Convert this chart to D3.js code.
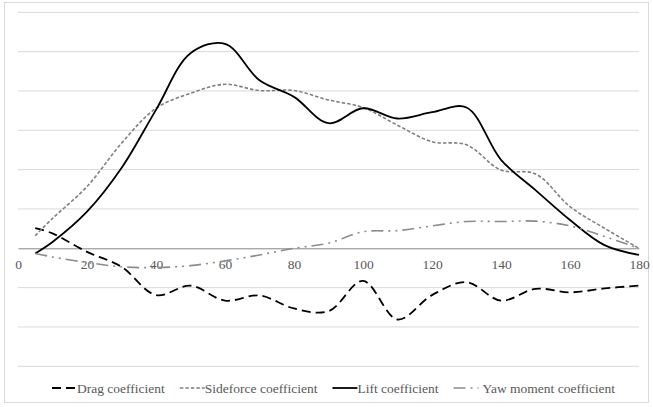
<!DOCTYPE html>
<html>
<head>
<meta charset="utf-8">
<script src="https://cdn.jsdelivr.net/npm/d3@7"></script>
<style>
  body { margin: 0; background: #fff; }
  svg text { font-family: 'Liberation Serif', 'Times New Roman', 'DejaVu Serif', serif !important; }
</style>
</head>
<body>
<script>
// angles (degrees) shared by all series
const angles = [5, 10, 20, 30, 40, 50, 60, 70, 80, 90, 100, 110, 120, 130, 140, 150, 160, 170, 180];

const drag = [0.51, 0.38, -0.09, -0.47, -1.19, -0.95, -1.33, -1.2, -1.53, -1.6, -0.83, -1.81, -1.19, -0.86, -1.33, -1.03, -1.12, -1.02, -0.95];
const sideforce = [0.32, 0.76, 1.57, 2.67, 3.56, 3.94, 4.17, 4.01, 4.01, 3.77, 3.58, 3.13, 2.71, 2.63, 1.99, 1.89, 1.06, 0.51, 0];
const lift = [-0.13, 0.16, 0.93, 2.04, 3.52, 4.96, 5.2, 4.27, 3.85, 3.18, 3.56, 3.3, 3.46, 3.58, 2.25, 1.48, 0.72, 0.08, -0.17];
const yaw = [-0.13, -0.22, -0.36, -0.47, -0.49, -0.44, -0.32, -0.17, 0, 0.13, 0.42, 0.45, 0.57, 0.68, 0.68, 0.69, 0.57, 0.3, 0];

const xTicks = [0, 20, 40, 60, 80, 100, 120, 140, 160, 180];
const yGrid = [-3, -2, -1, 1, 2, 3, 4, 5, 6];

const seriesNames = ["Drag coefficient", "Sideforce coefficient", "Lift coefficient", "Yaw moment coefficient"];

const W = 653, H = 407;
const serif = "'Liberation Serif', 'Times New Roman', serif";

const svg = d3.select("body").append("svg")
  .attr("width", W)
  .attr("height", H)
  .attr("font-family", serif);

// chart border
svg.append("rect")
  .attr("x", 4.5).attr("y", 2.5)
  .attr("width", 644).attr("height", 400)
  .attr("fill", "none")
  .attr("stroke", "#d9d9d9");

const x = d3.scaleLinear().domain([0, 180]).range([18, 639]);
const y = d3.scaleLinear().domain([-3, 6]).range([366.3, 12.3]);

// gridlines
svg.append("g")
  .selectAll("line")
  .data(yGrid)
  .enter()
  .append("line")
  .attr("x1", x(0)).attr("x2", x(180))
  .attr("y1", d => y(d)).attr("y2", d => y(d))
  .attr("stroke", "#d9d9d9")
  .attr("stroke-width", 1);

// x axis at zero
const xAxis = svg.append("g")
  .attr("transform", "translate(0," + y(0) + ")")
  .call(d3.axisBottom(x).tickValues(xTicks).tickSize(0).tickPadding(11).tickFormat(d3.format("d")))
  .attr("font-family", serif)
  .attr("font-size", 13.5);
xAxis.select(".domain").attr("stroke", "#868686").attr("stroke-width", 1);
xAxis.selectAll("text")
  .attr("fill", "#595959");

const styles = [
  { data: drag, color: "#000000", width: 1.8, dash: "9,5" },
  { data: sideforce, color: "#808080", width: 1.6, dash: "3.5,2" },
  { data: lift, color: "#000000", width: 1.8, dash: null },
  { data: yaw, color: "#8c8c8c", width: 1.6, dash: "12,5,2,5,2,5" }
];

const line = d3.line()
  .x(d => x(d[0]))
  .y(d => y(d[1]))
  .curve(d3.curveCatmullRom.alpha(0.5));

svg.append("g")
  .selectAll("path")
  .data(styles)
  .enter()
  .append("path")
  .attr("d", s => line(angles.map((a, i) => [a, s.data[i]])))
  .attr("fill", "none")
  .attr("stroke", s => s.color)
  .attr("stroke-width", s => s.width)
  .attr("stroke-dasharray", s => s.dash);

// legend
const legend = svg.append("g").attr("transform", "translate(0,388)");
let lx = 52;
seriesNames.forEach((name, i) => {
  const s = styles[i];
  legend.append("line")
    .attr("x1", lx).attr("x2", lx + 25)
    .attr("y1", 0).attr("y2", 0)
    .attr("stroke", s.color)
    .attr("stroke-width", s.width)
    .attr("stroke-dasharray", s.dash);
  const t = legend.append("text")
    .attr("x", lx + (i == 3 ? 29 : 25))
    .attr("y", 4.5)
    .attr("fill", "#595959")
    .attr("font-size", 13.5)
    .text(name);
  lx = lx + (i == 3 ? 29 : 25) + t.node().getComputedTextLength() + 15;
});
</script>
</body>
</html>
